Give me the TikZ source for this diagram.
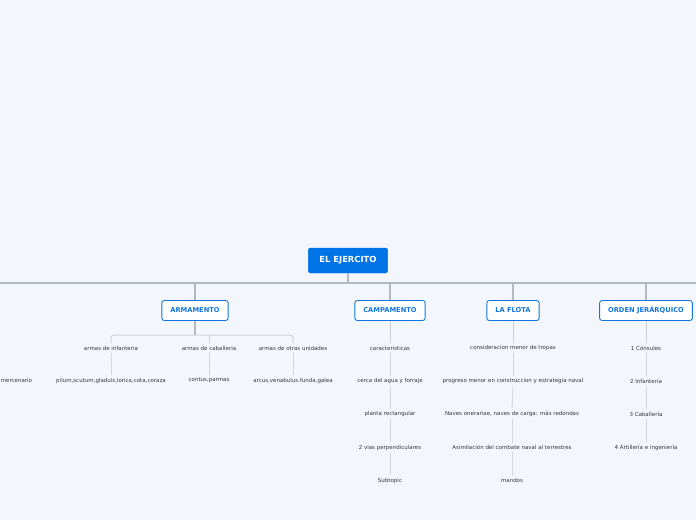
\documentclass[tikz,border=0pt]{standalone}
\usepackage{fontspec}
\setmainfont{DejaVu Sans}
\begin{document}
\begin{tikzpicture}[x=1pt,y=-1pt,
  rootbox/.style={draw=rootblue,fill=rootblue,rounded corners=2pt,text=white,font=\fontsize{8.4}{9}\selectfont\bfseries,inner xsep=11pt,minimum height=25pt},
  topicbox/.style={draw=topicblue,line width=0.9pt,fill=white,rounded corners=2.5pt,text=topicblue,font=\fontsize{6.7}{8}\selectfont\bfseries,inner xsep=8.5pt,minimum height=20pt},
  leaf/.style={text=leaftext,font=\fontsize{5.5}{6}\selectfont,inner sep=2.5pt},
  mainline/.style={draw=maingray,line width=1.3pt},
  subline/.style={draw=subgray,line width=1pt},
  leafline/.style={draw=leafgray,line width=0.9pt}]
\definecolor{bg}{RGB}{243,246,253}
\definecolor{rootblue}{RGB}{0,115,230}
\definecolor{topicblue}{RGB}{18,118,222}
\definecolor{leaftext}{RGB}{55,55,60}
\definecolor{maingray}{RGB}{180,184,192}
\definecolor{subgray}{RGB}{205,209,218}
\definecolor{leafgray}{RGB}{210,214,222}
\fill[bg] (0,0) rectangle (696,520);
\useasboundingbox (0,0) rectangle (696,520);

% root
\node[rootbox] (root) at (348,260.5) {EL EJERCITO};
\coordinate (jr) at (348,283);
\coordinate (lend) at (0,283);
\coordinate (rend) at (696,283);
\draw[mainline] (lend) -- (rend);
\draw[mainline] (root.south) -- (jr);

% level 1
\node[topicbox] (arm) at (195,310.5) {ARMAMENTO};
\node[topicbox] (cam) at (390,310.5) {CAMPAMENTO};
\node[topicbox] (flo) at (513,310.5) {LA FLOTA};
\node[topicbox] (ord) at (646,310.5) {ORDEN JERÁRQUICO};
\foreach \n in {arm,cam,flo,ord}{
  \draw[mainline] (\n.north |- jr) -- (\n.north);
}

% ARMAMENTO children
\node[leaf] (inf) at (111,348) {armas de infanteria};
\node[leaf] (cab) at (209,348) {armas de caballeria};
\node[leaf] (otr) at (293,348) {armas de otras unidades};
\coordinate (ja) at (195,335);
\draw[mainline] (arm.south) -- (ja);
\draw[subline,rounded corners=3pt] (inf.north) -- (inf.north |- ja) -- (otr.north |- ja) -- (otr.north);
\draw[subline,rounded corners=3pt] (cab.north |- ja) -- (cab.north);

\node[leaf] (pil) at (111,380.5) {pilum,scutum,gladuis,lorica,cota,coraza};
\node[leaf] (con) at (209,380.5) {contus,parmas};
\node[leaf] (arc) at (293,380.5) {arcus,venabulus.funda,galea};
\node[leaf,anchor=west,inner xsep=0.6pt] (mer) at (0,380.5) {mercenario};
\draw[leafline] (inf.south) -- (pil.north);
\draw[leafline] (cab.south) -- (con.north);
\draw[leafline] (otr.south) -- (arc.north);

% CAMPAMENTO
\node[leaf] (c1) at (390,348) {caracteristicas};
\node[leaf] (c2) at (390,381) {cerca del agua y forraje};
\node[leaf] (c3) at (390,414) {planta rectangular};
\node[leaf] (c4) at (390,447.5) {2 vias perpendiculares};
\node[leaf] (c5) at (390,480.5) {Subtopic};
\draw[subline] (cam.south) -- (c1.north);
\draw[leafline] (c1.south) -- (c2.north);
\draw[leafline] (c2.south) -- (c3.north);
\draw[leafline] (c3.south) -- (c4.north);
\draw[leafline] (c4.south) -- (c5.north);

% LA FLOTA
\node[leaf] (f1) at (513,348) {consideracion menor de tropas};
\node[leaf] (f2) at (513,381) {progreso menor en construccion y estrategia naval};
\node[leaf] (f3) at (512,414) {Naves onerariae, naves de carga: más redondas};
\node[leaf] (f4) at (512,447.5) {Asimilación del combate naval al terrestres};
\node[leaf] (f5) at (512,480.5) {mandos};
\draw[subline] (flo.south) -- (f1.north);
\draw[leafline] (f1.south) -- (f2.north);
\draw[leafline] (f2.south) -- (f3.north);
\draw[leafline] (f3.south) -- (f4.north);
\draw[leafline] (f4.south) -- (f5.north);

% ORDEN
\node[leaf] (o1) at (646,348) {1 Cónsules};
\node[leaf] (o2) at (646,381) {2 Infantería};
\node[leaf] (o3) at (646,414) {3 Caballería};
\node[leaf] (o4) at (646,447.5) {4 Artillería e ingeniería};
\draw[subline] (ord.south) -- (o1.north);
\draw[leafline] (o1.south) -- (o2.north);
\draw[leafline] (o2.south) -- (o3.north);
\draw[leafline] (o3.south) -- (o4.north);
\end{tikzpicture}
\end{document}
